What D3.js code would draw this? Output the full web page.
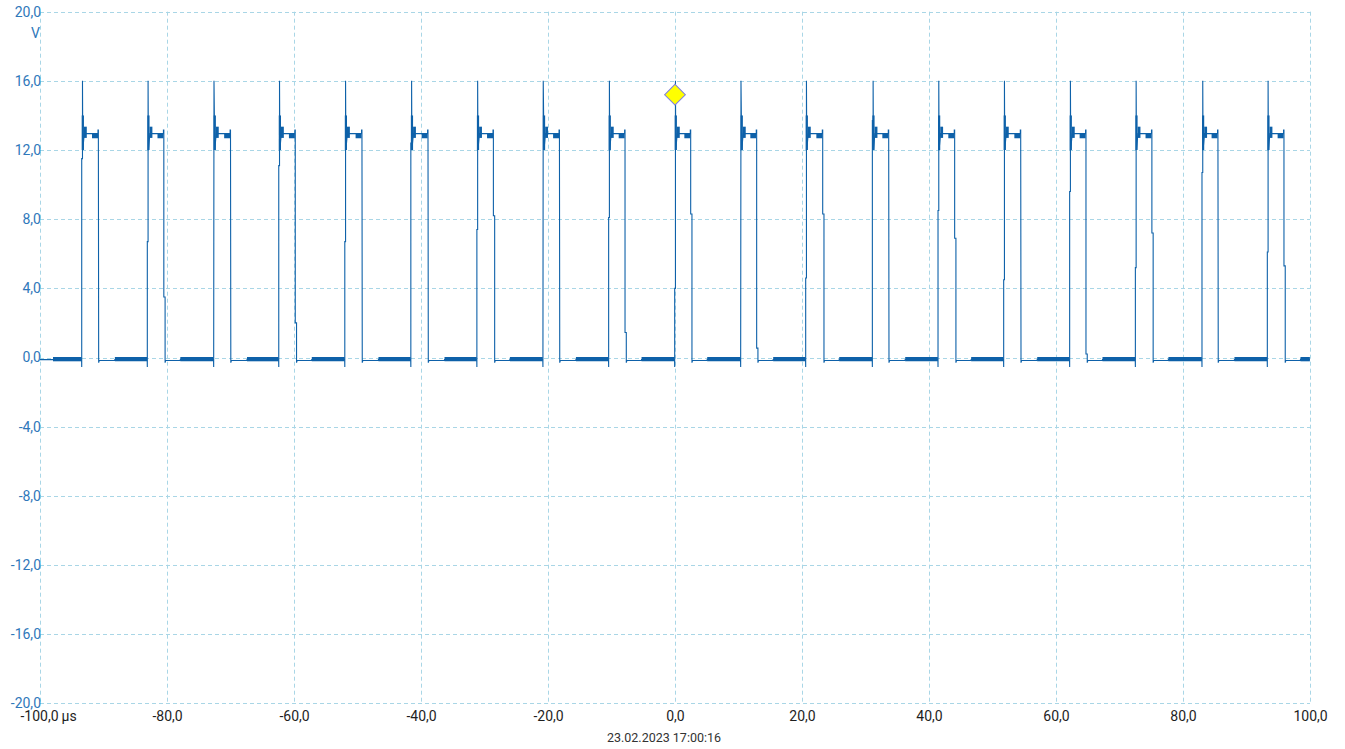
<!DOCTYPE html>
<html>
<head>
<meta charset="utf-8">
<script src="https://cdn.jsdelivr.net/npm/d3@7"></script>
<style>
  body { margin: 0; background: #fff; }
  text { font-family: Roboto, "Noto Sans", sans-serif; }
  .ylab { fill: #2f78ba; font-size: 14px; }
  .xlab { fill: #1e1e1e; font-size: 14px; }
</style>
</head>
<body>
<div class="svg-container"></div>
<script>
var width = 1345;
var height = 749;

var padding = { "top": 11.7, "right": 35, "bottom": 45.7, "left": 40 };

// tick values (µs, V)
var xTicks = [-100, -80, -60, -40, -20, 0, 20, 40, 60, 80, 100];
var yTicks = [-20, -16, -12, -8, -4, 0, 4, 8, 12, 16, 20];

// pulse edges (µs)
var riseTimes = [-93.43, -83.1, -72.65, -62.4, -52.0, -41.6, -31.2, -20.8, -10.45, -0.05,
                 10.34, 20.58, 31.08, 41.42, 51.76, 62.15, 72.5, 82.99, 93.28];
var fallTimes = [-90.81, -80.5, -70.0, -59.8, -49.3, -38.9, -28.6, -18.2, -7.87, 2.47,
                 12.86, 23.26, 33.65, 44.04, 54.44, 64.72, 75.1, 85.5, 95.9];
// intermediate sample on the edges (V), null = straight edge
var riseStepV = [11.5, 6.7, null, 11.1, 6.7, 12.4, 7.4, null, 8.1, 4.0,
                 null, 4.6, 13.7, 8.5, 4.5, 9.6, 5.2, 10.7, 6.1];
var fallStepV = [null, 3.5, null, 2.0, null, null, 8.2, null, 1.45, 8.3,
                 0.54, 8.3, null, 6.9, null, 0.2, 7.2, null, 5.3];

// levels of the waveform (V)
var peakV = 16.0;
var plateauV = 12.95;
var endV = 13.16;
var ringBand = [12.0, 14.0];
var settleBand = [12.7, 13.35];
var plateauBand = [12.68, 12.95];
var idleV = -0.12;
var idleBand = [-0.22, 0.03];
var undershootV = -0.3;
var spikeLowV = -0.55;

// trigger marker
var trigger = { t: 0, v: 15.2 };
var dateLabel = "23.02.2023 17:00:16";

var locale = d3.formatLocale({ decimal: ",", thousands: ".", grouping: [3], currency: ["", ""], minus: "-" });
var fmt = locale.format(".1f");

var svg = d3.select(".svg-container")
            .append("svg")
            .attr("width", width)
            .attr("height", height);

var scaleX = d3.scaleLinear()
               .domain([-100, 100])
               .range([padding.left, width - padding.right]);

var scaleY = d3.scaleLinear()
               .domain([-20, 20])
               .range([height - padding.bottom, padding.top]);

var traceColor = "#0e61a9";
var gridColor = "#a9d6e6";

// grid
var grid = svg.append("g").attr("class", "grid");
grid.selectAll("line.v")
    .data(xTicks)
    .enter()
    .append("line")
    .attr("x1", function(d) { return Math.round(scaleX(d)) + 0.5; })
    .attr("x2", function(d) { return Math.round(scaleX(d)) + 0.5; })
    .attr("y1", scaleY(20))
    .attr("y2", scaleY(-20))
    .attr("stroke", gridColor)
    .attr("stroke-width", 1)
    .attr("stroke-dasharray", "4,3");
grid.selectAll("line.h")
    .data(yTicks)
    .enter()
    .append("line")
    .attr("x1", scaleX(-100))
    .attr("x2", scaleX(100))
    .attr("y1", function(d) { return Math.round(scaleY(d)) + 0.5; })
    .attr("y2", function(d) { return Math.round(scaleY(d)) + 0.5; })
    .attr("stroke", gridColor)
    .attr("stroke-width", 1)
    .attr("stroke-dasharray", "4,3");

// y axis labels
var yAxis = svg.append("g")
               .attr("transform", "translate(" + (padding.left + 1) + ",0)")
               .call(d3.axisLeft(scaleY).tickValues(yTicks).tickSize(0).tickPadding(0).tickFormat(fmt));
yAxis.select(".domain").remove();
yAxis.selectAll("text").attr("class", "ylab").attr("fill", null).attr("font-family", null).attr("font-size", null);

svg.append("text")
   .attr("class", "ylab")
   .attr("x", padding.left)
   .attr("y", scaleY(20) + 26)
   .attr("text-anchor", "end")
   .text("V");

// x axis labels
var xAxis = svg.append("g")
               .attr("transform", "translate(0," + scaleY(-20) + ")")
               .call(d3.axisBottom(scaleX).tickValues(xTicks).tickSize(0).tickPadding(8).tickFormat(fmt));
xAxis.select(".domain").remove();
xAxis.selectAll("text").attr("class", "xlab").attr("fill", null).attr("font-family", null).attr("font-size", null);
xAxis.selectAll("text")
     .filter(function(d) { return d === -100; })
     .append("tspan")
     .text("\u2009µs");
xAxis.selectAll("text")
     .filter(function(d) { return d === -100; })
     .attr("text-anchor", "start")
     .attr("dx", -20);

svg.append("text")
   .attr("x", 664)
   .attr("y", 742)
   .attr("text-anchor", "middle")
   .attr("font-size", "12.5px")
   .attr("fill", "#333")
   .text(dateLabel);

// build trace points from edges
var trace = [[-100, idleV]];
riseTimes.forEach(function(tr, i) {
    var tf = fallTimes[i];
    var rs = riseStepV[i];
    var fs = fallStepV[i];
    trace.push([tr - 0.02, idleV]);
    trace.push([tr, spikeLowV]);
    if (rs !== null) {
        trace.push([tr, rs]);
        trace.push([tr + 0.12, rs]);
        trace.push([tr + 0.12, peakV]);
    } else {
        trace.push([tr + 0.05, peakV]);
    }
    trace.push([tr + 0.17, ringBand[0]]);
    trace.push([tr + 0.4, plateauV]);
    trace.push([tf - 0.06, plateauV]);
    trace.push([tf - 0.06, endV]);
    trace.push([tf, endV]);
    if (fs !== null) {
        trace.push([tf, fs]);
        trace.push([tf + 0.2, fs]);
        trace.push([tf + 0.2, undershootV]);
        trace.push([tf + 0.3, idleV - 0.05]);
    } else {
        trace.push([tf + 0.05, undershootV]);
        trace.push([tf + 0.15, idleV - 0.05]);
    }
    trace.push([tf + 2.6, idleV - 0.05]);
    trace.push([tf + 2.6, idleV]);
});
trace.push([100, idleV]);

// thick envelope bands (dense samples)
var bands = [];
bands.push([-97.95, riseTimes[0], idleBand]);
riseTimes.forEach(function(tr, i) {
    var tf = fallTimes[i];
    bands.push([tr, tr + 0.35, ringBand]);
    bands.push([tr + 0.35, tr + 0.8, settleBand]);
    bands.push([tf - 1.0, tf - 0.06, plateauBand]);
    var next = i + 1 < riseTimes.length ? riseTimes[i + 1] : 100;
    bands.push([tf + 2.6, next - 0.02, idleBand]);
});

var area = d3.area()
             .x(function(d) { return scaleX(d[0]); })
             .y0(function(d) { return scaleY(d[1]); })
             .y1(function(d) { return scaleY(d[2]); });

svg.append("g")
   .selectAll("path")
   .data(bands)
   .enter()
   .append("path")
   .attr("fill", traceColor)
   .attr("d", function(b) {
       return area([[b[0], b[2][0], b[2][1]], [b[1], b[2][0], b[2][1]]]);
   });

var valueline = d3.line()
                  .x(function(d) { return scaleX(d[0]); })
                  .y(function(d) { return scaleY(d[1]); });

svg.append("path")
   .datum(trace)
   .attr("fill", "none")
   .attr("stroke", traceColor)
   .attr("stroke-width", 1.1)
   .attr("d", valueline);

// trigger marker
svg.append("path")
   .attr("transform", "translate(" + scaleX(trigger.t) + "," + scaleY(trigger.v) + ") rotate(45)")
   .attr("d", d3.symbol().type(d3.symbolSquare).size(215)())
   .attr("fill", "#ffff00")
   .attr("stroke", "#7f7fe0")
   .attr("stroke-width", 1);
</script>
</body>
</html>
